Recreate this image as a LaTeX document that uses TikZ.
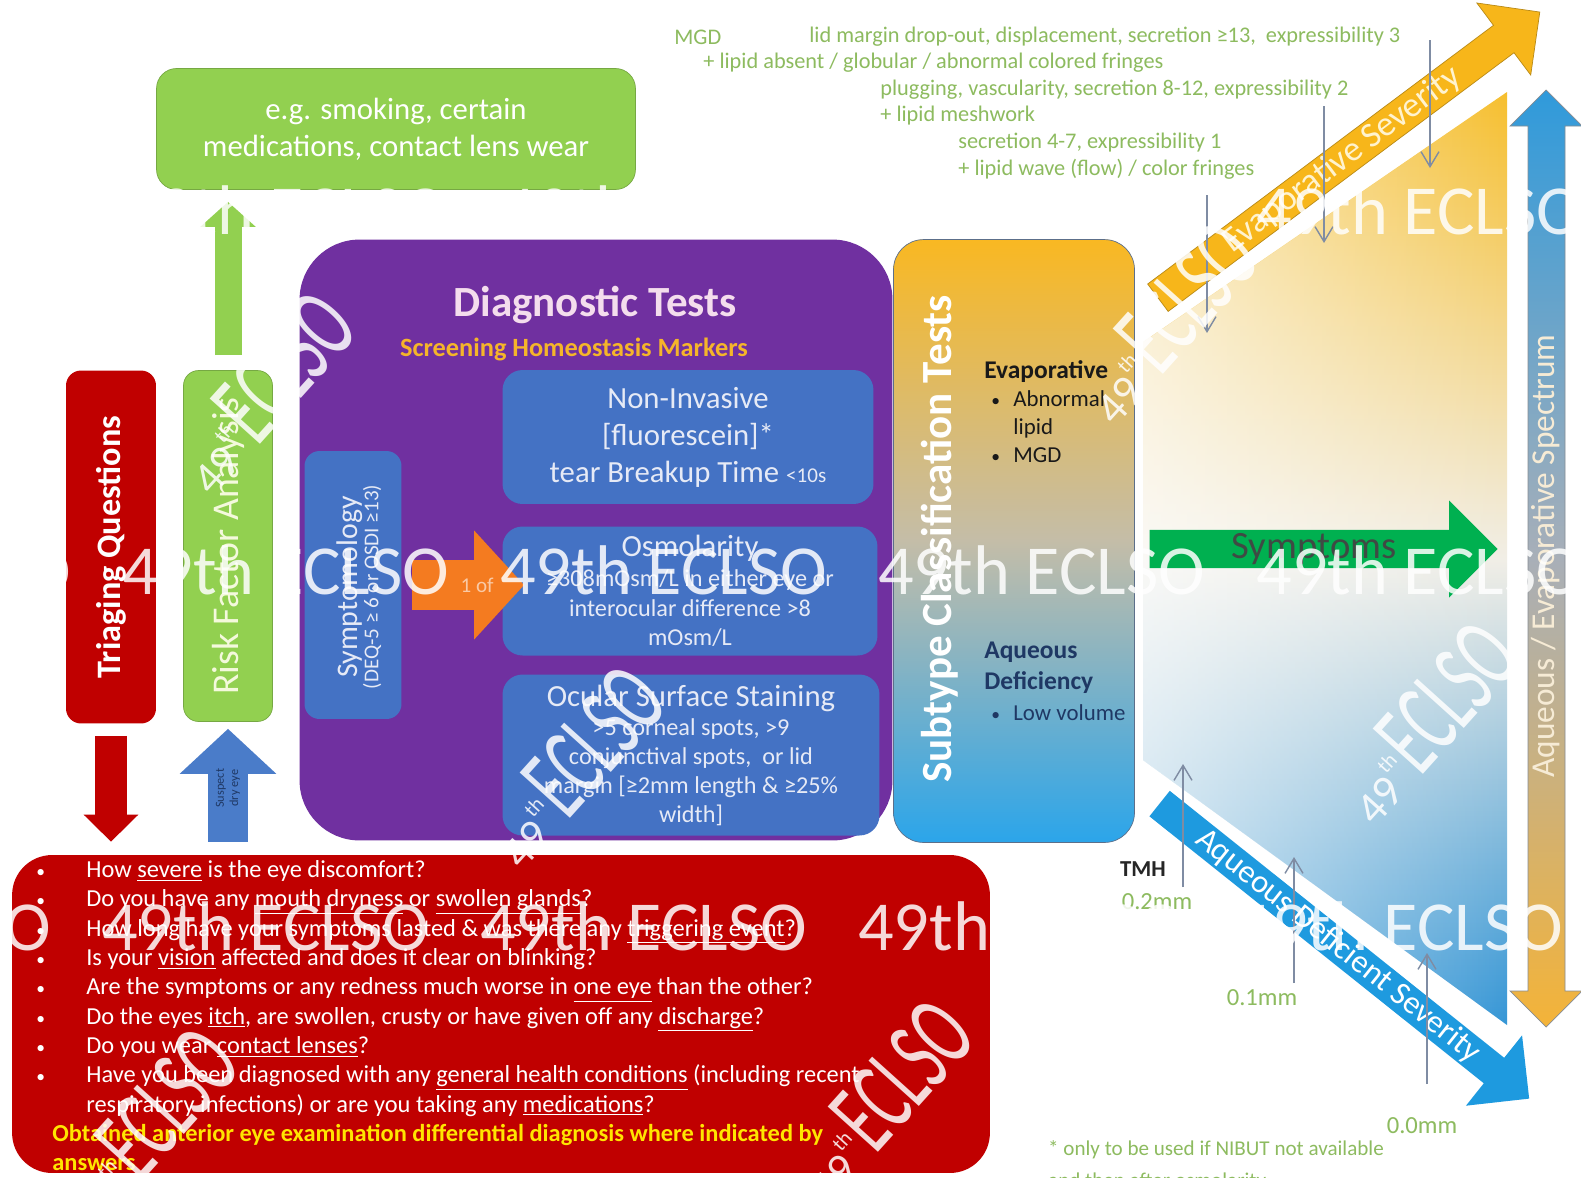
\documentclass[tikz,border=0pt]{standalone}
\usepackage{fontspec}
\setmainfont{Carlito}
\usetikzlibrary{arrows.meta,shapes.arrows,fadings}

\definecolor{triagered}{HTML}{C00000}
\definecolor{riskgreen}{HTML}{92D050}
\definecolor{riskedge}{HTML}{76A843}
\definecolor{risktext}{HTML}{F4F9DC}
\definecolor{testpurple}{HTML}{7030A0}
\definecolor{testblue}{HTML}{4472C4}
\definecolor{testtext}{HTML}{E6EAF6}
\definecolor{titlepink}{HTML}{F4DDED}
\definecolor{markeryellow}{HTML}{F5B52A}
\definecolor{onearrow}{HTML}{F47B20}
\definecolor{onetext}{HTML}{F9C9A5}
\definecolor{suspectblue}{HTML}{4A7CC9}
\definecolor{suspecttext}{HTML}{1F3864}
\definecolor{subtop}{HTML}{F9B822}
\definecolor{submid}{HTML}{C4BDA8}
\definecolor{subbot}{HTML}{2BA5EA}
\definecolor{subedge}{HTML}{5C6F8A}
\definecolor{evapyellow}{HTML}{F7B61A}
\definecolor{evapedge}{HTML}{B98A16}
\definecolor{evaptext}{HTML}{FFF3CF}
\definecolor{aqblue}{HTML}{1E9ADF}
\definecolor{symgreen}{HTML}{00B050}
\definecolor{symtext}{HTML}{3F4A44}
\definecolor{specblue}{HTML}{2F9ADB}
\definecolor{specmid}{HTML}{A8AFB8}
\definecolor{specorange}{HTML}{F4B338}
\definecolor{spectext}{HTML}{F6EBD5}
\definecolor{zonetop}{HTML}{F6BF2E}
\definecolor{zonemid}{HTML}{F1EEE6}
\definecolor{zonebot}{HTML}{3596D6}
\definecolor{notegreen}{HTML}{8DBB5F}
\definecolor{pointgray}{HTML}{7F8CA3}
\definecolor{answeryellow}{HTML}{FFE500}

\tikzfading[name=fade right, left color=transparent!35, right color=transparent!100]

\newcommand{\qbullet}{\makebox[1.06cm][l]{\hspace*{0.06cm}{\fontsize{10}{10}\selectfont\textbullet}}}
\newcommand{\eclsostamp}{{\fontsize{26}{26}\selectfont 49\raisebox{0.6em}{\fontsize{12}{12}\selectfont th}}\,\scalebox{0.58}[1]{\fontsize{60}{60}\selectfont ECLSO}}

\begin{document}
\begin{tikzpicture}[x=0.02cm, y=-0.02cm]

	\tikzstyle{box}=[rounded corners=0.3cm, inner sep=0pt, align=center]
	\tikzstyle{testbox}=[box, fill=testblue, text=testtext, rounded corners=0.4cm]
	\tikzstyle{pointer}=[pointgray, line width=0.8pt, -{Straight Barb[length=0.3cm, width=0.36cm]}]
	\tikzstyle{note}=[anchor=west, inner sep=0pt, text=notegreen, font=\fontsize{12.7}{14}\selectfont]
	\tikzstyle{fatarrow}=[single arrow, inner sep=0pt, single arrow head extend=0.5cm]
	\tikzstyle{wmark}=[anchor=west, inner sep=0pt, text=white, opacity=0.85, font=\fontsize{40}{40}\selectfont]
	\tikzstyle{stamp}=[inner sep=0pt, text=white, opacity=0.85, rotate=48]

	\useasboundingbox (0,0) rectangle (1581,1177);
	\fill[white] (0,0) rectangle (1581,1177);

	\coordinate (examples) at (396, 129); % FACTORES
	\coordinate (triage) at (111, 547); % TRIAGE
	\coordinate (risk) at (228, 546); % RIESGO
	\coordinate (tests) at (596, 540); % TESTS
	\coordinate (sympt) at (353, 585); % TESTS
	\coordinate (tbut) at (688, 437); % TESTS
	\coordinate (osmo) at (690, 591); % TESTS
	\coordinate (oss) at (691, 755); % TESTS
	\coordinate (subtype) at (1014, 541); % SUBTIPO
	\coordinate (quest) at (501, 1014); % PREGUNTAS

	%%%%%%%%%%%%%%%%%%%%%%%%%%%%%%%%%
	%%%%%%% ZONA DERECHA %%%%%%%%
	\shade[top color=zonetop, bottom color=zonebot, middle color=zonemid] (1143,342) -- (1507,92) -- (1507,1025) -- (1143,760) -- cycle;
	\fill[white, path fading=fade right] (1143,342) -- (1507,92) -- (1507,1025) -- (1143,760) -- cycle;

	\shadedraw[top color=specblue, bottom color=specorange, middle color=specmid, draw=specmid!80!black, line width=0.4pt] (1546,90) -- (1582,126) -- (1565,126) -- (1565,991) -- (1582,991) -- (1546,1027) -- (1510,991) -- (1528,991) -- (1528,126) -- (1510,126) -- cycle;
	\node[rotate=90, text=spectext, font=\fontsize{19}{19}\selectfont] (spectrum) at (1546,556) {Aqueous / Evaporative Spectrum};

	\node[fatarrow, fill=evapyellow, draw=evapedge, minimum height=9.54cm, minimum width=1.8cm, rotate=36.8, text=evaptext, font=\fontsize{20}{20}\selectfont] (evap) at (1342,160) {Evaporative Severity};
	\node[fatarrow, fill=aqblue, minimum height=9.46cm, minimum width=1.8cm, rotate=-38.6, text=white, font=\fontsize{18.5}{18.5}\selectfont] (aqdef) at (1338,946) {Aqueous Deficient Severity};
	\node[fatarrow, fill=symgreen, minimum height=6.96cm, minimum width=1.94cm, single arrow head extend=0.49cm, text=symtext, font=\fontsize{22}{22}\selectfont] (symptoms) at (1314,549) {Symptoms};

	%%%%%%%%%%%%%%%%%%%%%%%%%%%%%%%%%
	%%%%%%% CAJAS %%%%%%%%
	\node[box, fill=riskgreen, draw=riskedge, minimum width=9.58cm, minimum height=2.42cm, rounded corners=0.4cm, text=white, font=\fontsize{17.5}{21}\selectfont] (examples) at (examples) {e.g. smoking, certain\\medications, contact lens wear};

	\node[box, fill=triagered, minimum width=1.8cm, minimum height=7.06cm] (triage) at (triage) {};
	\node[rotate=90, text=white, font=\bfseries\fontsize{19.5}{20}\selectfont] (triage_txt) at (triage) {Triaging Questions};

	\node[box, fill=riskgreen, draw=riskedge, minimum width=1.78cm, minimum height=7.02cm] (risk) at (risk) {};
	\node[rotate=90, text=risktext, font=\fontsize{21.5}{22}\selectfont] (risk_txt) at (risk) {Risk Factor Analysis};

	\node[box, fill=testpurple, minimum width=11.86cm, minimum height=12.02cm, rounded corners=1.2cm] (tests) at (tests) {};
	\node[text=titlepink, font=\bfseries\fontsize{24.5}{25}\selectfont] (tests_title) at (595,305) {Diagnostic Tests};
	\node[text=markeryellow, font=\bfseries\fontsize{15}{15}\selectfont] (markers) at (574,349) {Screening Homeostasis Markers};

	\node[testbox, minimum width=1.94cm, minimum height=5.36cm, rounded corners=0.3cm] (sympt) at (sympt) {};
	\node[rotate=90, align=center, text=testtext] (sympt_txt) at (359,587) {{\fontsize{17}{19}\selectfont Symptomology}\\{\fontsize{12}{14}\selectfont (DEQ-5 ≥ 6 or OSDI ≥13)}};

	\node[testbox, minimum width=7.42cm, minimum height=2.68cm, font=\fontsize{17.5}{21}\selectfont] (tbut) at (tbut) {Non-Invasive\\{[fluorescein]*}\\tear Breakup Time {\fontsize{12}{12}\selectfont <10s}};
	\node[testbox, minimum width=7.5cm, minimum height=2.58cm, font=\fontsize{13.8}{17}\selectfont] (osmo) at (osmo) {{\fontsize{17.5}{17}\selectfont Osmolarity}\\≥308mOsm/L in either eye or\\interocular difference >8\\mOsm/L};
	\node[testbox, minimum width=7.54cm, minimum height=3.22cm, font=\fontsize{13.8}{16.5}\selectfont] (oss) at (oss) {{\fontsize{17.5}{18}\selectfont Ocular Surface Staining}\\>5 corneal spots, >9\\conjunctival spots,\ \ or lid\\margin {[≥2mm} length \& ≥25\%\\width{]}};

	\node[box, fill=triagered, minimum width=19.56cm, minimum height=6.36cm, rounded corners=0.8cm] (quest) at (quest) {};
	\node[anchor=north west, align=left, inner sep=0pt, text=white, font=\fontsize{13.9}{16.7}\selectfont] (quest_txt) at (33,860) {%
		\qbullet How \underline{severe} is the eye discomfort?\\
		\qbullet Do you have any \underline{mouth dryness} or \underline{swollen glands}?\\
		\qbullet How long have your symptoms lasted \& was there any \underline{triggering event}?\\
		\qbullet Is your \underline{vision} affected and does it clear on blinking?\\
		\qbullet Are the symptoms or any redness much worse in \underline{one eye} than the other?\\
		\qbullet Do the eyes \underline{itch}, are swollen, crusty or have given off any \underline{discharge}?\\
		\qbullet Do you wear \underline{contact lenses}?\\
		\qbullet Have you been diagnosed with any \underline{general health conditions} (including recent\\
		\hspace*{1.06cm}respiratory infections) or are you taking any \underline{medications}?\\
		\hspace*{0.38cm}{\color{answeryellow}\bfseries Obtained anterior eye examination differential diagnosis where indicated by}\\
		\hspace*{0.38cm}{\color{answeryellow}\bfseries answers}};

	\node[box, top color=subtop, bottom color=subbot, middle color=submid, draw=subedge, minimum width=4.82cm, minimum height=12.06cm, rounded corners=0.6cm] (subtype) at (subtype) {};
	\node[rotate=90, text=white, font=\bfseries\fontsize{24.5}{25}\selectfont] (subtype_txt) at (940,539) {Subtype Classification Tests};
	\node[anchor=north west, align=left, inner sep=0pt, text=black!90, font=\fontsize{13}{16}\selectfont] (evap_txt) at (984,360) {%
		{\bfseries\fontsize{14.5}{16}\selectfont Evaporative}\\
		\hspace*{0.14cm}\makebox[0.44cm][l]{\fontsize{10}{10}\selectfont\textbullet}Abnormal\\
		\hspace*{0.58cm}lipid\\
		\hspace*{0.14cm}\makebox[0.44cm][l]{\fontsize{10}{10}\selectfont\textbullet}MGD};
	\node[anchor=north west, align=left, inner sep=0pt, text=suspecttext, font=\fontsize{13}{17.5}\selectfont] (aq_txt) at (984,642) {%
		{\bfseries\fontsize{14.5}{17.5}\selectfont Aqueous}\\
		{\bfseries\fontsize{14.5}{17.5}\selectfont Deficiency}\\
		\hspace*{0.14cm}\makebox[0.44cm][l]{\fontsize{10}{10}\selectfont\textbullet}Low volume};

	%%%%%%%%%%%%%%%%%%%%%%%%%%%%%%%%%
	%%%%%%% FLECHAS %%%%%%%%
	\draw[triagered, line width=0.66cm, -{Triangle[length=0.54cm, width=1.06cm]}, shorten <=0.24cm, shorten >=0.26cm] (triage.south) -- (triage.south |- quest.north);
	\draw[suspectblue, line width=0.8cm, -{Triangle[length=0.9cm, width=1.88cm]}, shorten <=0.26cm, shorten >=0.14cm] (quest.north -| risk.south) -- node[midway, rotate=90, align=center, text=suspecttext, font=\fontsize{7}{8}\selectfont] (suspect) {Suspect\\dry eye} (risk.south);
	\draw[riskgreen, line width=0.54cm, -{Triangle[length=0.5cm, width=1.08cm]}, shorten <=0.3cm, shorten >=0.24cm] (risk.north) -- (examples.south -| risk.north);
	\draw[onearrow, line width=1cm, -{Triangle[length=1cm, width=2.12cm]}, shorten <=0.2cm, shorten >=-0.44cm] (sympt.east) -- node[pos=0.75, text=onetext, font=\fontsize{12}{12}\selectfont] (one_of) {1 of} (sympt.east -| osmo.west);

	%%%%%%%%%%%%%%%%%%%%%%%%%%%%%%%%%
	%%%%%%% NOTAS %%%%%%%%
	\node[note] (mgd) at (674,37) {MGD};
	\node[note] (mgd_3) at (809,37) {lid margin drop-out, displacement, secretion ≥13,\ \ expressibility 3};
	\node[note] (mgd_3b) at (703,63) {+ lipid absent / globular / abnormal colored fringes};
	\node[note] (mgd_2) at (880,90) {plugging, vascularity, secretion 8-12, expressibility 2};
	\node[note] (mgd_2b) at (880,116) {+ lipid meshwork};
	\node[note] (mgd_1) at (958,143) {secretion 4-7, expressibility 1};
	\node[note] (mgd_1b) at (958,169) {+ lipid wave (flow) / color fringes};

	\coordinate (p_3a) at (1430,40);
	\coordinate (p_3b) at (1430,168);
	\coordinate (p_2a) at (1324,106);
	\coordinate (p_2b) at (1324,243);
	\coordinate (p_1a) at (1207,195);
	\coordinate (p_1b) at (1207,333);
	\draw[pointer] (p_3a) -- (p_3b);
	\draw[pointer] (p_2a) -- (p_2b);
	\draw[pointer] (p_1a) -- (p_1b);

	\coordinate (t_2a) at (1183,887);
	\coordinate (t_2b) at (1183,764);
	\coordinate (t_1a) at (1294,983);
	\coordinate (t_1b) at (1294,857);
	\coordinate (t_0a) at (1427,1084);
	\coordinate (t_0b) at (1427,953);
	\draw[pointer] (t_2a) -- (t_2b);
	\draw[pointer] (t_1a) -- (t_1b);
	\draw[pointer] (t_0a) -- (t_0b);

	\node[text=black!85, font=\bfseries\fontsize{13}{13}\selectfont] (tmh) at (1143,869) {TMH};
	\node[text=notegreen, font=\fontsize{14}{14}\selectfont] (mm_2) at (1157,902) {0.2mm};
	\node[text=notegreen, font=\fontsize{14}{14}\selectfont] (mm_1) at (1262,998) {0.1mm};
	\node[text=notegreen, font=\fontsize{14}{14}\selectfont] (mm_0) at (1422,1126) {0.0mm};
	\node[anchor=west, text=notegreen, font=\fontsize{12}{12}\selectfont] (footnote) at (1042,1150) {* only to be used if NIBUT not available};
	\node[anchor=west, text=notegreen, font=\fontsize{12}{12}\selectfont] (footnote_b) at (1042,1182) {and then after osmolarity};

	%%%%%%%%%%%%%%%%%%%%%%%%%%%%%%%%%
	%%%%%%% MARCA DE AGUA %%%%%%%%
	\foreach \wy/\wo [count=\j] in {210/0, 570/0, 926/-20}
		\foreach \wx [count=\i] in {-256,122,500,878,1256}
			\node[wmark] (wm_\j_\i) at (\wx+\wo,\wy) {49th ECLSO};

	\foreach \sx/\sy [count=\i] in {262/392, 572/766, 880/1100, 145/1128, 1425/722, 1165/322}
		\node[stamp] (stamp_\i) at (\sx,\sy) {\eclsostamp};

\end{tikzpicture}
\end{document}
